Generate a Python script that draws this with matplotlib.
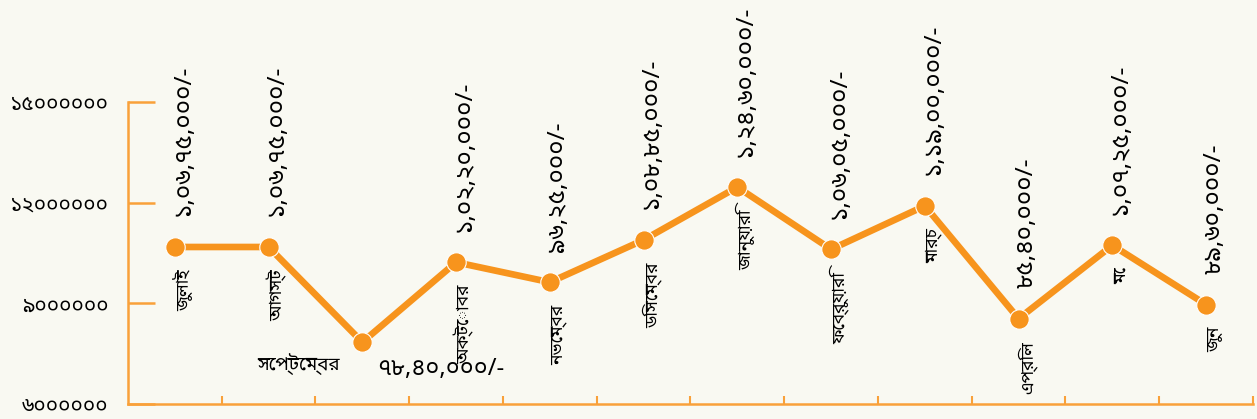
import matplotlib
matplotlib.use("Agg")
import matplotlib.pyplot as plt
from matplotlib.ticker import FixedLocator

plt.rcParams['font.family'] = ['Noto Sans Bengali', 'DejaVu Sans']

# months (Bengali) and monthly totals
months = ["জুলাই", "আগস্ট", "সেপ্টেম্বর", "অক্টোবর", "নভেম্বর", "ডিসেম্বর",
          "জানুয়ারি", "ফেব্রুয়ারি", "মার্চ", "এপ্রিল", "মে", "জুন"]
values = [10675000, 10675000, 7840000, 10220000, 9625000, 10885000,
          12460000, 10605000, 11900000, 8540000, 10725000, 8960000]
value_labels = ["১,০৬,৭৫,০০০/-", "১,০৬,৭৫,০০০/-", "৭৮,৪০,০০০/-", "১,০২,২০,০০০/-",
                "৯৬,২৫,০০০/-", "১,০৮,৮৫,০০০/-", "১,২৪,৬০,০০০/-", "১,০৬,০৫,০০০/-",
                "১,১৯,০০,০০০/-", "৮৫,৪০,০০০/-", "১,০৭,২৫,০০০/-", "৮৯,৬০,০০০/-"]
yticks = [6000000, 9000000, 12000000, 15000000]
ytick_labels = ["৬০০০০০০", "৯০০০০০০", "১২০০০০০০", "১৫০০০০০০"]

orange = "#F7941D"
axis_orange = "#F9A13A"
bg = "#F9F9F2"

fig = plt.figure(figsize=(12.57, 4.19), dpi=100, facecolor=bg)
ax = fig.add_axes([0.1018, 0.036, 0.8950, 0.721])
ax.set_facecolor("none")

x = list(range(len(months)))
ax.plot(x, values, color=orange, lw=4.8, marker="o", ms=14,
        markeredgecolor="white", markeredgewidth=0.8, zorder=3, clip_on=False)

ax.set_xlim(-0.5, len(months) - 0.5)
ax.set_ylim(6000000, 15000000)

for s in ["top", "right"]:
    ax.spines[s].set_visible(False)
for s in ["left", "bottom"]:
    ax.spines[s].set_color(axis_orange)
    ax.spines[s].set_linewidth(1.8)

ax.set_yticks(yticks)
ax.set_yticklabels(ytick_labels, fontsize=15)
ax.tick_params(axis="y", direction="in", length=19.5, width=1.8,
               color=axis_orange, pad=14)

ax.set_xticks([])
ax.xaxis.set_minor_locator(FixedLocator([i + 0.5 for i in x]))
ax.tick_params(axis="x", which="minor", direction="in", length=6, width=1.5,
               color=axis_orange)

for i, (m, v, lab) in enumerate(zip(months, values, value_labels)):
    if i == 2:
        # september is labelled sideways, under the point
        ax.annotate(m, (i, v), xytext=(-16, -16), textcoords="offset points",
                    ha="right", va="center", fontsize=13.5)
        ax.annotate(lab, (i, v), xytext=(11, -19), textcoords="offset points",
                    ha="left", va="center", fontsize=17, fontweight="semibold")
        continue
    ax.annotate(lab, (i, v), xytext=(6, 22), textcoords="offset points",
                ha="center", va="bottom", rotation=90, fontsize=17.5,
                fontweight="semibold", annotation_clip=False)
    ax.annotate(m, (i, v), xytext=(6, -16), textcoords="offset points",
                ha="center", va="top", rotation=90, fontsize=12.5,
                annotation_clip=False)

fig.savefig("out.png", dpi=100, facecolor=bg)
